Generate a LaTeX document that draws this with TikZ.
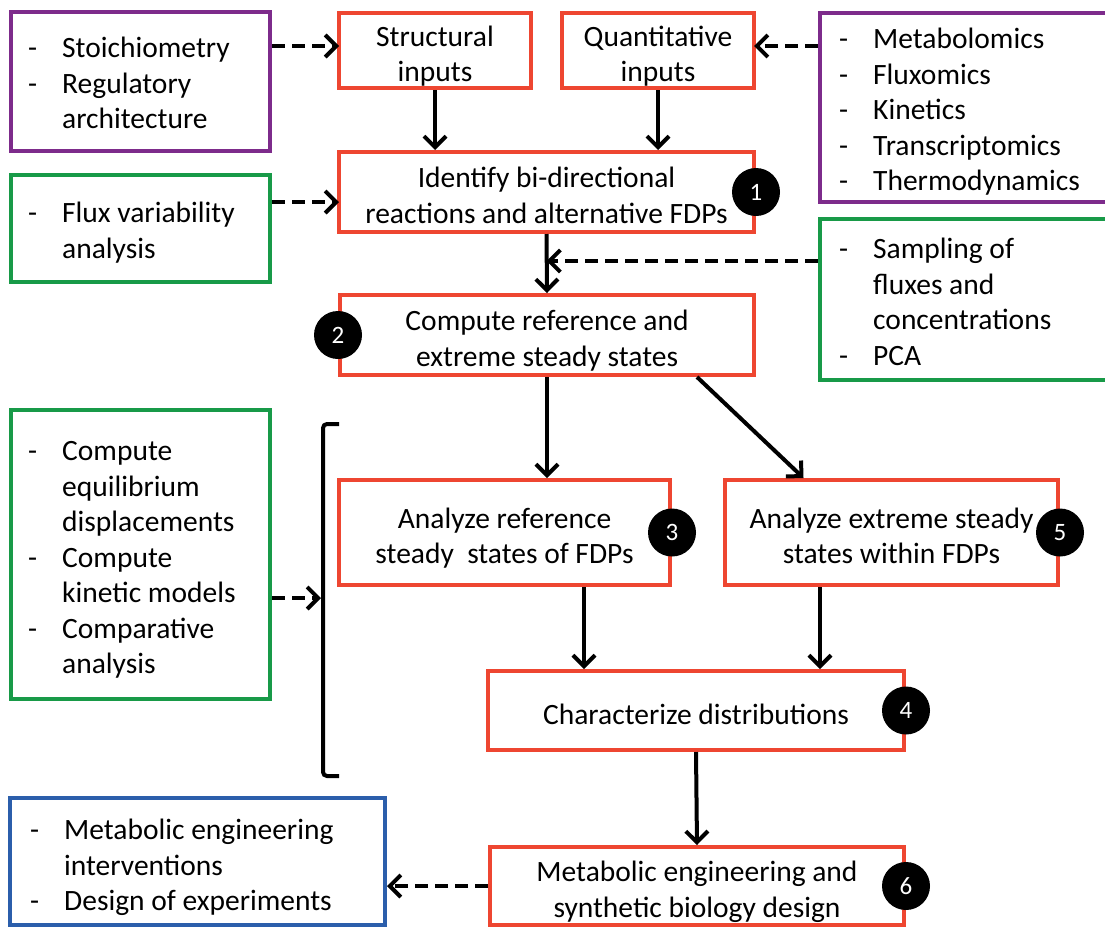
\documentclass[tikz,border=0pt]{standalone}
\usepackage{fontspec}
\setmainfont{Carlito}
\usetikzlibrary{arrows.meta,calc}
\definecolor{redc}{HTML}{EE4631}
\definecolor{purc}{HTML}{7D2B8B}
\definecolor{grnc}{HTML}{189A48}
\definecolor{bluc}{HTML}{2B5EAB}
\newcommand{\fsz}{\fontsize{29.5}{35.5}\selectfont}
\newcommand{\rbtext}[1]{\raisebox{-6.5pt}[\height][\depth]{\begin{tabular}{@{}c@{}}#1\end{tabular}}}
\newcommand{\mylist}[1]{\begin{tabular}{@{}p{34pt}@{}l@{}}#1\end{tabular}}
\begin{document}
\begin{tikzpicture}[x=1pt,y=-1pt,
  rbox/.style={draw=redc,line width=4pt,inner sep=0pt,font=\fsz},
  pbox/.style={draw=purc,line width=4pt,inner sep=0pt},
  gbox/.style={draw=grnc,line width=4pt,inner sep=0pt},
  bbox/.style={draw=bluc,line width=4pt,inner sep=0pt},
  lst/.style={anchor=west,inner sep=0pt,font=\fsz},
  num/.style={circle,fill=black,minimum size=48pt,inner sep=0pt,text=white,font=\fontsize{25}{30}\selectfont},
  arr/.style={line width=4pt,-{Straight Barb[length=11pt,width=22pt]}},
  darr/.style={arr,dash pattern=on 13pt off 7pt}]
\useasboundingbox (0,0) rectangle (1105,927);
\clip (0,0) rectangle (1105,927);

% boxes
\node[pbox,minimum width=259pt,minimum height=139pt] (p1) at (140.5,81.5) {};
\node[rbox,minimum width=192pt,minimum height=75pt] (si) at (435,50.5) {\rbtext{Structural\\inputs}};
\node[rbox,minimum width=192pt,minimum height=75pt] (qi) at (658,50.5) {\rbtext{Quantitative\\inputs}};
\node[pbox,minimum width=295pt,minimum height=189pt] (p2) at (967.5,107.5) {};
\node[rbox,minimum width=415pt,minimum height=80pt] (id) at (546.5,192) {\rbtext{Identify bi-directional\\reactions and alternative FDPs}};
\node[gbox,minimum width=259pt,minimum height=107pt] (fv) at (140.5,228.5) {};
\node[gbox,minimum width=295pt,minimum height=161pt] (sm) at (967.5,299.5) {};
\node[rbox,minimum width=414pt,minimum height=80pt] (cr) at (547,335) {\rbtext{Compute reference and\\extreme steady states}};
\node[gbox,minimum width=259pt,minimum height=289pt] (cg) at (140.5,554.5) {};
\node[rbox,minimum width=331pt,minimum height=105pt] (ar) at (504.5,532.5) {\rbtext{Analyze reference\\steady\ \ states of FDPs}};
\node[rbox,minimum width=333pt,minimum height=105pt] (ae) at (891.5,532.5) {\rbtext{Analyze extreme steady\\states within FDPs}};
\node[rbox,minimum width=416pt,minimum height=79pt] (ch) at (696,710.5) {\rbtext{Characterize distributions}};
\node[rbox,minimum width=414pt,minimum height=78pt] (mb) at (697,886) {\rbtext{Metabolic engineering and\\synthetic biology design}};
\node[bbox,minimum width=375pt,minimum height=127pt] (bl) at (197.5,861.5) {};

% list texts
\node[lst] (t1) at (28,86) {\mylist{-&Stoichiometry\\-&Regulatory\\&architecture}};
\node[lst] (t2) at (839,112.5) {\mylist{-&Metabolomics\\-&Fluxomics\\-&Kinetics\\-&Transcriptomics\\-&Thermodynamics}};
\node[lst] (t3) at (28,233.5) {\mylist{-&Flux variability\\&analysis}};
\node[lst] (t4) at (839,305) {\mylist{-&Sampling of\\&fluxes and\\&concentrations\\-&PCA}};
\node[lst] (t5) at (28,560) {\mylist{-&Compute\\&equilibrium\\&displacements\\-&Compute\\&kinetic models\\-&Comparative\\&analysis}};
\node[lst] (t6) at (30,868) {\mylist{-&Metabolic engineering\\&interventions\\-&Design of experiments}};

% numbers
\node[num] (n1) at (id.east) {1};
\node[num] (n2) at (cr.west) {2};
\node[num] (n3) at (ar.east) {3};
\node[num] (n5) at (ae.east) {5};
\node[num] (n4) at (ch.east) {4};
\node[num] (n6) at (mb.east) {6};

% bracket
\coordinate (bt) at (339,424);
\coordinate (bb) at (339,776);
\draw[line width=4pt,rounded corners=4pt] (bt) -- (323,424) -- (323,776) -- (bb);

% helper coordinates
\coordinate (a1) at (339,46);
\coordinate (a2) at (754,46);
\coordinate (a3) at (339,202);
\coordinate (sj) at (546.5,261);
\coordinate (bm) at (321,598);
\coordinate (x584) at (584,0);
\coordinate (x820) at (820,0);

% connectors
\draw[darr] (p1.east |- a1) -- (a1);
\draw[darr] (p2.west |- a2) -- (a2);
\draw[arr] (si.south) -- (si.south |- id.north);
\draw[arr] (qi.south) -- (qi.south |- id.north);
\draw[darr] (fv.east |- a3) -- (a3);
\draw[arr] (id.south) -- (cr.north);
\draw[darr] (sm.west |- sj) -- (sj);
\draw[arr] (cr.south) -- (cr.south |- ar.north);
\draw[arr] ([xshift=150pt]cr.south) -- ([xshift=-88pt]ae.north);
\draw[arr] (ar.south -| x584) -- (ch.north -| x584);
\draw[arr] (ae.south -| x820) -- (ch.north -| x820);
\draw[arr] (ch.south) -- (mb.north);
\draw[darr] (mb.west) -- (bl.east |- mb.west);
\draw[darr] (cg.east |- bm) -- (bm);
\end{tikzpicture}
\end{document}
